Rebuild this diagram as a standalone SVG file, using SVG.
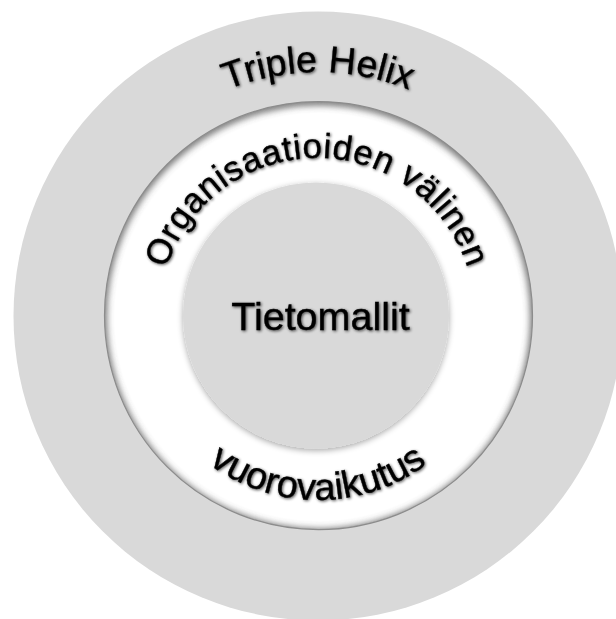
<svg xmlns="http://www.w3.org/2000/svg" width="616" height="619" viewBox="0 0 616 619">
  <style>
    .lbl { font-family: "Liberation Sans", Arial, sans-serif; fill: #050505; stroke: #050505; stroke-width: 0.35; filter: url(#soft); }
    .gray { fill: #d9d9d9; }
  </style>
  <defs>
    <!-- soft shadow behind the lettering -->
    <filter id="soft" x="-10%" y="-20%" width="120%" height="140%">
      <feGaussianBlur in="SourceAlpha" stdDeviation="1.4" result="b"/>
      <feOffset in="b" dx="0.8" dy="1.3" result="o"/>
      <feComponentTransfer in="o" result="s"><feFuncA type="linear" slope="0.7"/></feComponentTransfer>
      <feMerge><feMergeNode in="s"/><feMergeNode in="SourceGraphic"/></feMerge>
    </filter>
    <!-- blur used for the ring's inner shadow -->
    <filter id="blur4" x="-10%" y="-10%" width="120%" height="120%">
      <feGaussianBlur stdDeviation="3.5"/>
    </filter>
    <!-- drop shadow of the core disc -->
    <filter id="coreShadow" x="-10%" y="-10%" width="120%" height="120%">
      <feGaussianBlur in="SourceAlpha" stdDeviation="3" result="b"/>
      <feOffset in="b" dx="0" dy="2" result="o"/>
      <feComponentTransfer in="o" result="s"><feFuncA type="linear" slope="0.35"/></feComponentTransfer>
      <feMerge><feMergeNode in="s"/><feMergeNode in="SourceGraphic"/></feMerge>
    </filter>
    <clipPath id="ringClip"><circle cx="318.5" cy="315.6" r="214"/></clipPath>
    <path id="arcHelix" d="M 74,316 A 244 244 0 0 1 562,316"/>
    <path id="arcOrg" d="M 159,316 A 158 158 0 0 1 475,316"/>
    <path id="arcVuoro" d="M 134,316 A 184 184 0 0 0 502,316"/>
  </defs>

  <rect width="616" height="619" fill="#ffffff"/>

  <!-- outer layer -->
  <g id="triple-helix">
    <circle class="gray" cx="318" cy="316" r="304.5"/>
    <text class="lbl" font-size="37.5"><textPath href="#arcHelix" startOffset="50%" text-anchor="middle">Triple Helix</textPath></text>
  </g>

  <!-- middle ring -->
  <g id="interaction">
    <circle cx="318.5" cy="315.6" r="214" fill="#ffffff"/>
    <g clip-path="url(#ringClip)">
      <circle cx="318.5" cy="317" r="216" fill="none" stroke="#444" stroke-width="8" filter="url(#blur4)" opacity="0.8"/>
    </g>
    <circle cx="318.5" cy="315.6" r="214" fill="none" stroke="#8c8c8c" stroke-width="1.2"/>
    <text class="lbl" font-size="35" letter-spacing="0.6"><textPath href="#arcOrg" startOffset="50%" text-anchor="middle">Organisaatioiden välinen</textPath></text>
    <text class="lbl" font-size="38"><textPath href="#arcVuoro" startOffset="50%" text-anchor="middle">vuorovaikutus</textPath></text>
  </g>

  <!-- core -->
  <g id="tietomallit">
    <circle class="gray" cx="316" cy="315.5" r="133" filter="url(#coreShadow)"/>
    <text class="lbl" x="320.5" y="330" font-size="39.5" text-anchor="middle">Tietomallit</text>
  </g>
</svg>
